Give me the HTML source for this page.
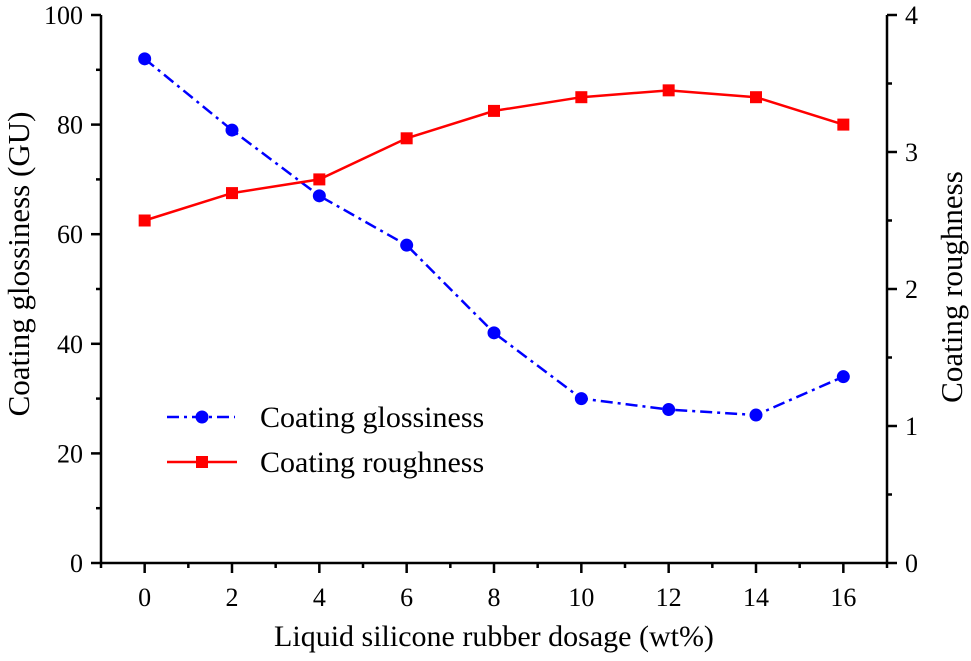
<!DOCTYPE html>
<html><head><meta charset="utf-8"><style>
html,body{margin:0;padding:0;background:#fff;}
svg{display:block;font-family:"Liberation Serif",serif;}
</style></head><body>
<svg id="chart" width="971" height="661"></svg>
<script>
const xCats=[0,2,4,6,8,10,12,14,16];
const gloss=[92,79,67,58,42,30,28,27,34];
const rough=[2.5,2.7,2.8,3.1,3.3,3.4,3.45,3.4,3.2];
const xTicks=[0,2,4,6,8,10,12,14,16];
const yLTicks=[0,20,40,60,80,100];
const yRTicks=[0,1,2,3,4];
const L=101,R=887,T=15,B=563;
const X=v=>L+(v+1)/18*(R-L);
const YL=v=>B-v/100*(B-T);
const YR=v=>B-v/4*(B-T);
const svg=document.getElementById('chart');
const NS='http://www.w3.org/2000/svg';
function mk(tag,at,name,txt){const e=document.createElementNS(NS,tag);for(const k in at)e.setAttribute(k,at[k]);


if(txt!==undefined)e.textContent=txt;svg.appendChild(e);return e;}
const ax={stroke:'#000','stroke-width':2.5};
mk('line',{x1:L-1,y1:B,x2:R+1,y2:B,...ax},'x-axis');
mk('line',{x1:L,y1:T,x2:L,y2:B,...ax},'left-y-axis');
mk('line',{x1:R,y1:T,x2:R,y2:B,...ax},'right-y-axis');
for(let v=-1;v<=17;v++){const maj=v>=0&&v%2===0&&v<=16;mk('line',{x1:X(v),y1:B,x2:X(v),y2:B+(maj?10:5),stroke:'#000','stroke-width':2.5},'x-tick');}
xTicks.forEach(v=>mk('text',{x:X(v),y:B+43,'font-size':26,'text-anchor':'middle'},'x-tick-label',v));
for(let v=0;v<=100;v+=10){const maj=v%20===0;mk('line',{x1:L,y1:YL(v),x2:L-(maj?10:5),y2:YL(v),stroke:'#000','stroke-width':2.5},'left-y-tick');}
yLTicks.forEach(v=>mk('text',{x:L-18,y:YL(v)+9,'font-size':26,'text-anchor':'end'},'left-y-tick-label',v));
for(let v=0;v<=4;v+=0.5){const maj=v%1===0;mk('line',{x1:R,y1:YR(v),x2:R+(maj?10:5),y2:YR(v),stroke:'#000','stroke-width':2.5},'right-y-tick');}
yRTicks.forEach(v=>mk('text',{x:R+18,y:YR(v)+9,'font-size':26,'text-anchor':'start'},'right-y-tick-label',v));
mk('text',{x:494,y:646,'font-size':30,'text-anchor':'middle'},'x-axis-title','Liquid silicone rubber dosage (wt%)');
mk('text',{x:0,y:0,'font-size':31,'text-anchor':'middle',transform:'translate(29,264) rotate(-90)'},'left-y-axis-title','Coating glossiness (GU)');
mk('text',{x:0,y:0,'font-size':31,'text-anchor':'middle',transform:'translate(962,287) rotate(-90)'},'right-y-axis-title','Coating roughness');
mk('polyline',{points:xCats.map((c,i)=>X(c)+','+YL(gloss[i])).join(' '),fill:'none',stroke:'#0000ff','stroke-width':2.5,'stroke-dasharray':'12,5,3,5'},'glossiness-line');
mk('polyline',{points:xCats.map((c,i)=>X(c)+','+YR(rough[i])).join(' '),fill:'none',stroke:'#ff0000','stroke-width':2.5},'roughness-line');
xCats.forEach((c,i)=>mk('circle',{cx:X(c),cy:YL(gloss[i]),r:6.5,fill:'#0000ff'},'glossiness-point'));
xCats.forEach((c,i)=>mk('rect',{x:X(c)-6,y:YR(rough[i])-6,width:12,height:12,fill:'#ff0000'},'roughness-point'));
mk('line',{x1:167,y1:417,x2:235,y2:417,stroke:'#0000ff','stroke-width':2.5,'stroke-dasharray':'12,5,3,5'},'legend-glossiness-line');
mk('circle',{cx:202,cy:417,r:6.5,fill:'#0000ff'},'legend-glossiness-marker');
mk('text',{x:260,y:427,'font-size':30},'legend-glossiness-label','Coating glossiness');
mk('line',{x1:167,y1:462,x2:237,y2:462,stroke:'#ff0000','stroke-width':2.5},'legend-roughness-line');
mk('rect',{x:196,y:456,width:12,height:12,fill:'#ff0000'},'legend-roughness-marker');
mk('text',{x:260,y:472,'font-size':30},'legend-roughness-label','Coating roughness');
</script>
</body></html>
